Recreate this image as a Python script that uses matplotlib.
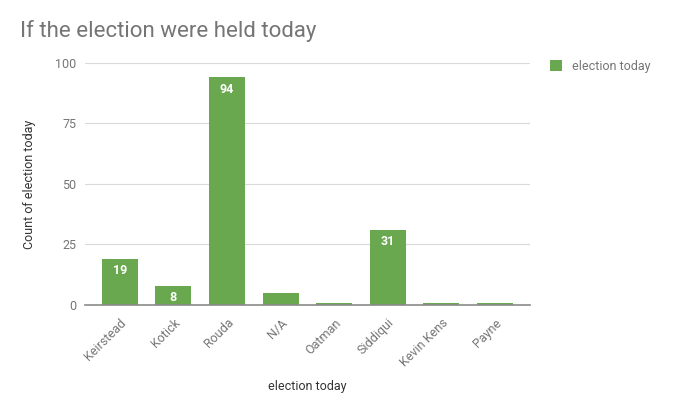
import matplotlib
matplotlib.use('Agg')
import matplotlib.pyplot as plt

# data
candidates = ['Keirstead', 'Kotick', 'Rouda', 'N/A', 'Oatman', 'Siddiqui', 'Kevin Kens', 'Payne']
counts = [19, 8, 94, 5, 1, 31, 1, 1]
y_ticks = [0, 25, 50, 75, 100]

GREEN = '#6aa84f'
GRAY = '#757575'

plt.rcParams['font.family'] = ['Roboto', 'DejaVu Sans']

fig = plt.figure(figsize=(6.8, 4.17), dpi=100)
ax = fig.add_axes([0.125, 0.2686, 0.654, 0.5804])

x = list(range(len(candidates)))
bars = ax.bar(x, counts, width=0.67, color=GREEN, zorder=3)

# white value labels inside the taller bars
for xi, v in zip(x, counts):
    if v >= 8:
        ax.text(xi, v - 2.2, str(v), ha='center', va='top', color='white',
                fontsize=9, fontweight='bold', zorder=4)

ax.set_xlim(-0.65, 7.65)
ax.set_ylim(0, 100)
ax.set_yticks(y_ticks)
ax.set_yticklabels([str(t) for t in y_ticks], color=GRAY, fontsize=9)
ax.set_xticks(x)
ax.set_xticklabels(candidates, rotation=45, ha='right', rotation_mode='anchor',
                   color=GRAY, fontsize=9)
ax.tick_params(length=0, pad=6)
ax.tick_params(axis='x', pad=8)
ax.grid(axis='y', color='#d9d9d9', linewidth=0.8, zorder=0)
for s in ['top', 'right', 'left']:
    ax.spines[s].set_visible(False)
ax.spines['bottom'].set_color('#8a8a8a')
ax.spines['bottom'].set_linewidth(1.2)
ax.spines['bottom'].set_zorder(5)

ax.set_ylabel('Count of election today', color='#333333', fontsize=9, labelpad=14)
ax.set_xlabel('election today', color='#333333', fontsize=9, labelpad=8)

fig.text(0.029, 0.925, 'If the election were held today', color=GRAY,
         fontsize=16, va='center', ha='left')

ax.legend([bars], ['election today'], loc='upper left', bbox_to_anchor=(1.02, 1.06),
          frameon=False, fontsize=9, labelcolor=GRAY, handlelength=1.0,
          handleheight=1.0, handletextpad=0.8)

fig.savefig('out.png', dpi=100)
